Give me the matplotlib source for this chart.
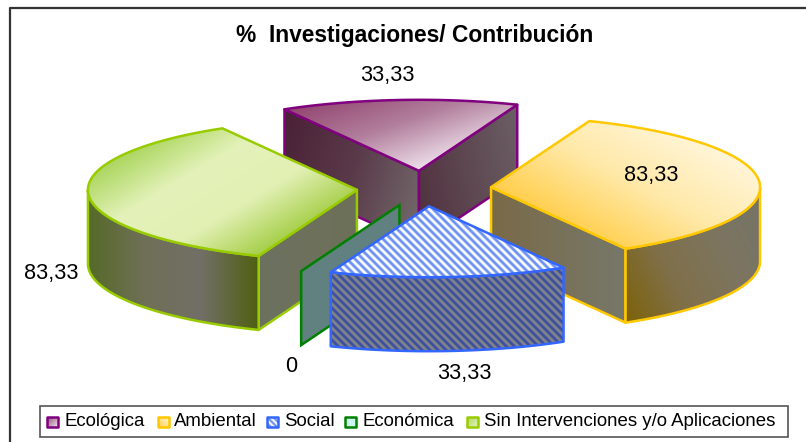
import numpy as np
import matplotlib
matplotlib.use('Agg')
from matplotlib import pyplot as plt
from matplotlib.colors import to_rgb
from matplotlib.path import Path
from matplotlib.patches import Rectangle, Polygon

categories = ['Ecológica', 'Ambiental', 'Social', 'Económica', 'Sin Intervenciones y/o Aplicaciones']
values = [33.33, 83.33, 33.33, 0, 83.33]
title = '%  Investigaciones/ Contribución'

plt.rcParams['font.family'] = ['Liberation Sans', 'DejaVu Sans']

# pie geometry in pixels
cx, cy = 424, 188.5
rx, ry = 269, 71
depth = 74
explode = 0.25
start_angle = 120

edges = ['#800080', '#ffc800', '#3366ff', '#008000', '#99cc00']
# top surface gradients: direction, colours
tops = [
    ((0.35, 1), ['#934670', '#b27f9d', '#eee0ea']),
    ((-0.55, 1), ['#fff5d8', '#ffe9a8', '#ffce4c']),
    None,
    None,
    ((0.6, 1), ['#acd660', '#e4f2ba', '#e2f0b4', '#a6cf4a']),
]
fronts = [
    None,
    ((1, -0.5), ['#7c6208', '#80704a', '#7d7560', '#747468']),
    None,
    None,
    ((1, 0), ['#566a28', '#6f7058', '#726f66', '#4f6012']),
]
walls = [
    [((1, 0.3), ['#4a2036', '#5a3a4a', '#746c6c']), ((1, -0.2), ['#50303e', '#6b5f64'])],
    [None, ((1, 0), ['#7a6a48', '#77786a'])],
    [None, None],
    [None, None],
    [((1, 0), ['#6c7060', '#6e7158']), None],
]
label_xy = [(387, 76), (651, 175.5), (464, 374), (291, 366), (51, 274)]
legend_swatch_x = [47, 158, 267, 345, 467]
legend_text_x = [64, 174, 284, 362, 484]
legend_swatch_tops = [
    ((1, 1), ['#8c4a72', '#eee0ea']),
    ((-1, 1), ['#fff5d8', '#ffce4c']),
    None,
    ((1, 1), ['#ccf5f0', '#ccf5f0']),
    ((1, 1), ['#acd660', '#e4f2ba']),
]

fig = plt.figure(figsize=(8.06, 4.42), dpi=100)
ax = fig.add_axes([0, 0, 1, 1])
order_z = [1]


def next_z():
    order_z[0] += 1
    return order_z[0]


def bbox(pts):
    pts = np.asarray(pts)
    x0, y0 = np.floor(pts.min(axis=0))
    x1, y1 = np.ceil(pts.max(axis=0))
    return x0, x1, y0, y1


def put_image(rgb, pts, box, z):
    x0, x1, y0, y1 = box
    im = ax.imshow(rgb, extent=(x0, x1, y1, y0), aspect='auto', interpolation='bilinear', zorder=z)
    im.set_clip_path(Path(np.asarray(pts)), ax.transData)


def gradient(pts, direction, colors, z):
    x0, x1, y0, y1 = box = bbox(pts)
    xx, yy = np.meshgrid(np.linspace(x0, x1, 80), np.linspace(y0, y1, 80))
    proj = xx*direction[0] + yy*direction[1]
    p = np.asarray(pts)
    pp = p[:, 0]*direction[0] + p[:, 1]*direction[1]
    t = (proj - pp.min()) / max(pp.max() - pp.min(), 1e-6)
    stops = np.linspace(0, 1, len(colors))
    cols = np.array([to_rgb(c) for c in colors])
    rgb = np.dstack([np.interp(t, stops, cols[:, i]) for i in range(3)])
    put_image(rgb, pts, box, z)


def stripes(pts, back, fore, z, period=8):
    x0, x1, y0, y1 = box = bbox(pts)
    xx, yy = np.meshgrid(np.arange(x0, x1, 0.5), np.arange(y0, y1, 0.5))
    t = 0.5 + 0.5*np.cos(2*np.pi*(xx - yy)/period)
    t = np.clip((t - 0.25)*2, 0, 1)
    b, f = np.array(to_rgb(back)), np.array(to_rgb(fore))
    rgb = b + t[..., None]*(f - b)
    put_image(rgb, pts, box, z)


def outline(pts, color, z):
    ax.add_patch(Polygon(pts, closed=True, fill=False, ec=color, lw=1.8, joinstyle='round', zorder=z))


def ell(ax0, ay0, t):
    return ax0 + rx*np.cos(t), ay0 - ry*np.sin(t)


# frame
ax.plot([9.5, 9.5, 806], [442, 8, 8], color='#333333', lw=1.6, zorder=1)

# slice angles, clockwise
total = sum(values)
ang = start_angle
slices = []
for i, v in enumerate(values):
    sweep = 360*v/total
    t0, t1 = np.radians(ang), np.radians(ang - sweep)
    mid = (t0 + t1)/2
    ox = cx + explode*rx*np.cos(mid)
    oy = cy - explode*ry*np.sin(mid)
    slices.append((oy, i, ox, t0, t1))
    ang -= sweep

for oy, i, ox, t0, t1 in sorted(slices):
    col = edges[i]
    if t0 == t1:
        # empty slice is only one flat wall
        px, py = ell(ox, oy, t0)
        quad = [(ox, oy), (px, py), (px, py + depth), (ox, oy + depth)]
        ax.add_patch(Polygon(quad, fc='#618080', ec=col, lw=1.8, zorder=next_z()))
        continue

    mid = (t0 + t1)/2
    for k, t in enumerate((t0, t1)):
        dx, dy = rx*np.cos(t), ry*np.sin(t)
        nx, ny = -dy, dx
        if nx*rx*np.cos(mid) + ny*ry*np.sin(mid) > 0:
            ny = -ny
        if ny >= 0 or walls[i][k] is None:
            continue
        px, py = ell(ox, oy, t)
        quad = [(ox, oy), (px, py), (px, py + depth), (ox, oy + depth)]
        d, c = walls[i][k]
        z = next_z()
        gradient(quad, d, c, z)
        outline(quad, col, z + 0.5)

    # outer front band, the part of the arc below the ellipse centre
    ts = np.linspace(t0, t1, 200)
    ts = ts[np.sin(ts) <= 0]
    if len(ts):
        ex, ey = ell(ox, oy, ts)
        band = list(zip(ex, ey)) + list(zip(ex[::-1], ey[::-1] + depth))
        z = next_z()
        if i == 2:
            stripes(band, '#85858a', '#3a4f9f', z)
        else:
            d, c = fronts[i]
            gradient(band, d, c, z)
        outline(band, col, z + 0.5)

    ts = np.linspace(t0, t1, 200)
    ex, ey = ell(ox, oy, ts)
    top = [(ox, oy)] + list(zip(ex, ey))
    z = next_z()
    if i == 2:
        stripes(top, '#ffffff', '#6a8ff0', z)
    else:
        d, c = tops[i]
        gradient(top, d, c, z)
    outline(top, col, z + 0.5)

# text
ax.text(415, 35.5, title, ha='center', va='center', fontsize=16.4, fontweight='bold', color='black', zorder=50)
for (lx, ly), v in zip(label_xy, values):
    s = ('%.2f' % v).replace('.', ',') if v else '0'
    ax.text(lx, ly, s, ha='center', va='center', fontsize=15.6, color='black', zorder=50)

# legend
ax.add_patch(Rectangle((40, 406), 748, 31, fc='white', ec='#555555', lw=1.2, zorder=40))
for i, name in enumerate(categories):
    sx = legend_swatch_x[i]
    sq = [(sx, 416.5), (sx + 10.5, 416.5), (sx + 10.5, 427), (sx, 427)]
    if i == 2:
        stripes(sq, '#ffffff', '#6a8ff0', 41, period=6)
    else:
        d, c = legend_swatch_tops[i]
        gradient(sq, d, c, 41)
    outline(sq, edges[i], 42)
    ax.text(legend_text_x[i], 422, name, ha='left', va='center', fontsize=13.4, color='black', zorder=43)

ax.set_xlim(0, 806)
ax.set_ylim(442, 0)
ax.axis('off')
fig.savefig('out.png', dpi=100, facecolor='white')
